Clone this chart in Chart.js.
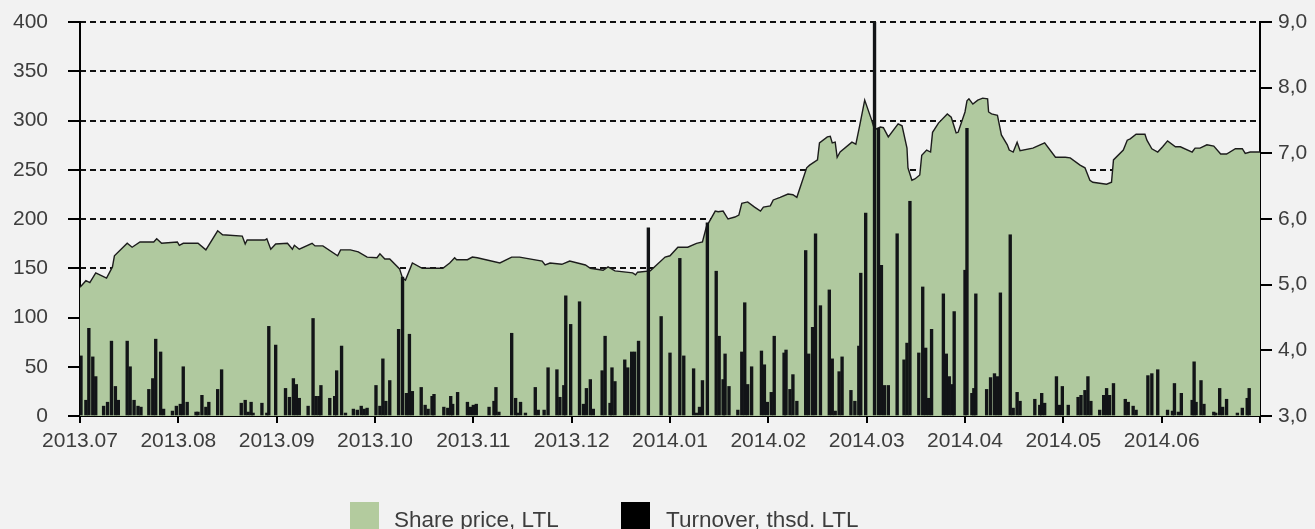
<!DOCTYPE html>
<html>
<head>
<meta charset="utf-8">
<script src="https://cdn.jsdelivr.net/npm/chart.js@4.4.1/dist/chart.umd.min.js"></script>
<style>
  html, body { margin: 0; padding: 0; background: #f2f2f2; overflow: hidden; }
  canvas { display: block; }
</style>
</head>
<body>
<canvas id="shareChart" width="1315" height="529"></canvas>
<script>
// month labels on the x axis (one tick per month start)
const months = ["2013.07", "2013.08", "2013.09", "2013.10", "2013.11", "2013.12",
                "2014.01", "2014.02", "2014.03", "2014.04", "2014.05", "2014.06"];

// share price, LTL (position in months since 2013.07)
const pricePos = [0, 0.06, 0.10, 0.16, 0.27, 0.33, 0.35, 0.48, 0.53, 0.61, 0.75, 0.78, 0.83, 0.99, 1.01, 1.05,
  1.20, 1.28, 1.40, 1.45, 1.65, 1.68, 1.70, 1.88, 1.90, 1.94, 1.99, 2.11, 2.16, 2.18, 2.23, 2.36, 2.39, 2.47,
  2.62, 2.65, 2.75, 2.83, 2.92, 3.02, 3.05, 3.10, 3.15, 3.25, 3.28, 3.31, 3.38, 3.48, 3.69, 3.76, 3.81, 3.83,
  3.94, 3.99, 4.04, 4.27, 4.39, 4.47, 4.70, 4.73, 4.78, 4.90, 4.98, 5.14, 5.19, 5.32, 5.37, 5.44, 5.62, 5.65,
  5.67, 5.80, 5.95, 6.00, 6.08, 6.18, 6.27, 6.33, 6.37, 6.46, 6.49, 6.54, 6.59, 6.66, 6.70, 6.73, 6.79, 6.86,
  6.92, 6.95, 7.02, 7.05, 7.12, 7.20, 7.25, 7.29, 7.39, 7.42, 7.50, 7.52, 7.60, 7.63, 7.65, 7.68, 7.70, 7.73,
  7.85, 7.89, 7.93, 7.98, 8.05, 8.08, 8.14, 8.17, 8.22, 8.32, 8.36, 8.41, 8.42, 8.46, 8.49, 8.54, 8.56, 8.61,
  8.65, 8.67, 8.73, 8.82, 8.86, 8.91, 8.93, 9.00, 9.02, 9.04, 9.08, 9.13, 9.18, 9.23, 9.24, 9.27, 9.33, 9.37,
  9.43, 9.45, 9.49, 9.53, 9.56, 9.69, 9.81, 9.92, 10.02, 10.07, 10.17, 10.22, 10.27, 10.30, 10.44, 10.49,
  10.51, 10.61, 10.65, 10.68, 10.74, 10.83, 10.85, 10.90, 10.96, 11.01, 11.06, 11.14, 11.19, 11.31, 11.34,
  11.39, 11.46, 11.53, 11.60, 11.66, 11.75, 11.82, 11.85, 11.90, 12.00];
const price = [4.96, 5.06, 5.03, 5.18, 5.10, 5.27, 5.44, 5.63, 5.57, 5.65, 5.65, 5.70, 5.63, 5.65, 5.60, 5.63,
  5.63, 5.53, 5.82, 5.76, 5.74, 5.62, 5.68, 5.68, 5.70, 5.54, 5.62, 5.63, 5.54, 5.60, 5.54, 5.63, 5.59, 5.59,
  5.44, 5.53, 5.53, 5.50, 5.42, 5.41, 5.47, 5.39, 5.39, 5.24, 5.10, 5.07, 5.33, 5.25, 5.25, 5.33, 5.41, 5.38,
  5.38, 5.42, 5.41, 5.33, 5.42, 5.42, 5.36, 5.30, 5.33, 5.31, 5.36, 5.30, 5.25, 5.22, 5.27, 5.21, 5.18, 5.15,
  5.19, 5.21, 5.42, 5.44, 5.57, 5.57, 5.63, 5.65, 5.88, 6.12, 6.11, 6.12, 6.00, 6.03, 6.06, 6.24, 6.26, 6.18,
  6.12, 6.18, 6.20, 6.29, 6.33, 6.38, 6.37, 6.33, 6.78, 6.82, 6.90, 7.16, 7.25, 7.26, 7.16, 7.17, 6.94, 7.02,
  7.17, 7.14, 7.43, 7.81, 7.51, 7.36, 7.40, 7.39, 7.25, 7.45, 7.42, 7.08, 6.78, 6.59, 6.61, 6.67, 6.97, 7.05,
  7.02, 7.32, 7.46, 7.60, 7.55, 7.31, 7.32, 7.63, 7.80, 7.83, 7.75, 7.81, 7.84, 7.83, 7.63, 7.60, 7.58, 7.28,
  7.13, 7.05, 7.02, 7.17, 7.04, 7.08, 7.16, 6.94, 6.94, 6.93, 6.82, 6.78, 6.59, 6.56, 6.53, 6.56,
  6.90, 7.05, 7.20, 7.22, 7.29, 7.29, 7.20, 7.07, 7.02, 7.10, 7.19, 7.10, 7.10, 7.02, 7.08,
  7.08, 7.13, 7.11, 6.99, 6.99, 7.07, 7.07, 7.00, 7.02, 7.02];

// turnover, thsd. LTL (position in months since 2013.07)
const turnoverPos = [0.01, 0.06, 0.09, 0.13, 0.16, 0.24, 0.28, 0.32, 0.36, 0.39, 0.48, 0.51, 0.55, 0.59, 0.62,
  0.70, 0.74, 0.77, 0.82, 0.85, 0.94, 0.98, 1.02, 1.05, 1.09, 1.18, 1.20, 1.24, 1.28, 1.31, 1.40, 1.44, 1.64,
  1.68, 1.71, 1.74, 1.76, 1.85, 1.90, 1.92, 1.99, 2.09, 2.13, 2.17, 2.20, 2.23, 2.32, 2.37, 2.40, 2.43, 2.45,
  2.54, 2.59, 2.61, 2.66, 2.70, 2.78, 2.82, 2.86, 2.89, 2.92, 3.01, 3.05, 3.08, 3.11, 3.15, 3.24, 3.28, 3.32,
  3.35, 3.38, 3.47, 3.51, 3.54, 3.58, 3.60, 3.70, 3.74, 3.77, 3.79, 3.84, 3.94, 3.97, 4.00, 4.03, 4.16, 4.21,
  4.23, 4.26, 4.39, 4.43, 4.45, 4.48, 4.53, 4.63, 4.66, 4.72, 4.76, 4.85, 4.88, 4.92, 4.94, 4.99, 5.08, 5.12,
  5.15, 5.19, 5.22, 5.31, 5.34, 5.39, 5.41, 5.44, 5.54, 5.57, 5.61, 5.64, 5.68, 5.78, 5.91, 6.00, 6.10, 6.14,
  6.24, 6.27, 6.30, 6.33, 6.38, 6.47, 6.50, 6.54, 6.56, 6.60, 6.69, 6.73, 6.76, 6.79, 6.83, 6.93, 6.96, 6.99,
  7.03, 7.06, 7.16, 7.18, 7.22, 7.25, 7.29, 7.38, 7.41, 7.45, 7.48, 7.53, 7.62, 7.65, 7.68, 7.72, 7.75, 7.84,
  7.88, 7.92, 7.94, 7.99, 8.08, 8.12, 8.15, 8.18, 8.22, 8.31, 8.38, 8.41, 8.44, 8.53, 8.57, 8.60, 8.63, 8.66,
  8.78, 8.81, 8.84, 8.87, 8.89, 9.00, 9.02, 9.07, 9.09, 9.11, 9.22, 9.26, 9.30, 9.33, 9.36, 9.46, 9.49, 9.53,
  9.56, 9.71, 9.76, 9.78, 9.81, 9.93, 9.96, 9.99, 10.05, 10.15, 10.18, 10.22, 10.25, 10.28, 10.37, 10.41,
  10.44, 10.47, 10.51, 10.63, 10.66, 10.71, 10.74, 10.86, 10.90, 10.96, 11.06, 11.11, 11.13, 11.17, 11.20,
  11.31, 11.33, 11.35, 11.40, 11.43, 11.53, 11.55, 11.59, 11.62, 11.66, 11.77, 11.82, 11.87, 11.89];
const turnover = [61, 16, 89, 60, 40, 10, 14, 76, 30, 16, 76, 50, 16, 10, 9,
  27, 38, 78, 65, 7, 5, 10, 12, 50, 14, 4, 4, 21, 9, 14, 27, 47, 13,
  16, 4, 14, 3, 13, 3, 91, 72, 28, 19, 38, 32, 18, 10, 99, 20, 20, 31,
  18, 20, 46, 71, 3, 7, 6, 10, 7, 8, 31, 10, 58, 15, 36, 88, 141, 23,
  83, 25, 29, 11, 7, 20, 22, 9, 8, 20, 12, 24, 14, 9, 11, 12, 9, 15,
  29, 4, 84, 18, 3, 14, 3, 29, 6, 6, 49, 47, 19, 31, 122, 93, 116, 12,
  28, 37, 7, 46, 81, 13, 49, 35, 57, 49, 65, 65, 76, 191, 101, 64, 160, 61,
  48, 3, 9, 36, 196, 147, 81, 37, 63, 30, 6, 65, 115, 32, 50, 66, 52, 14,
  24, 81, 64, 67, 27, 42, 15, 168, 63, 90, 185, 112, 128, 58, 5, 45, 60, 26,
  15, 71, 145, 206, 400, 292, 153, 31, 31, 185, 57, 74, 218, 64, 131, 69, 18, 88,
  124, 63, 40, 32, 106, 148, 292, 23, 28, 124, 27, 39, 43, 40, 125, 184, 8, 24,
  15, 17, 11, 23, 13, 40, 11, 30, 11, 19, 21, 26, 40, 15, 6, 21,
  28, 21, 33, 17, 14, 10, 6, 41, 43, 47, 6, 5, 33, 4, 23,
  16, 55, 14, 36, 12, 4, 3, 28, 9, 17, 3, 8, 18, 28];

const TEXT = "#3d3d3d";
const FONT = { family: "'Liberation Sans', Arial, sans-serif", size: 21 };
const LEGEND_SIZE = 22.5;

// fixed box sizes so the plot area sits where the original one does
function fixBox(w, h) {
    return function (s) {
        if (w !== null) s.width = w;
        if (h !== null) s.height = h;
        s.paddingTop = 0;
        s.paddingBottom = 0;
        s.paddingLeft = 0;
        s.paddingRight = 0;
    };
}

// ==========================
// LEGEND (drawn below the axis)
// ==========================
const bottomLegend = {
    id: "bottomLegend",
    afterDraw(chart) {
        const ctx = chart.ctx;
        ctx.save();
        ctx.font = LEGEND_SIZE + "px " + FONT.family;
        ctx.textBaseline = "alphabetic";
        const items = [
            { color: "#b3cb9e", text: chart.data.datasets[0].label, box: 350, label: 394 },
            { color: "#000000", text: chart.data.datasets[1].label, box: 621, label: 666 }
        ];
        items.forEach(function (it) {
            ctx.fillStyle = it.color;
            ctx.fillRect(it.box, 502, 29, 29);
            ctx.fillStyle = TEXT;
            ctx.fillText(it.text, it.label, 527);
        });
        ctx.restore();
    }
};

const ctx = document.getElementById("shareChart").getContext("2d");

new Chart(ctx, {
    type: "bar",
    data: {
        datasets: [{
            type: "line",
            label: "Share price, LTL",
            data: pricePos.map(function (p, i) { return { x: p, y: price[i] }; }),
            yAxisID: "y1",
            borderColor: "#1c1c1c",
            borderWidth: 1.4,
            backgroundColor: "#b0c99f",
            fill: "start",
            pointRadius: 0,
            tension: 0,
            order: 2
        }, {
            type: "bar",
            label: "Turnover, thsd. LTL",
            data: turnoverPos.map(function (p, i) { return { x: p, y: turnover[i] }; }),
            yAxisID: "y",
            backgroundColor: "#121417",
            barThickness: 2.7,
            order: 1
        }]
    },
    options: {
        responsive: false,
        animation: false,
        devicePixelRatio: 1,
        events: [],
        layout: { padding: { top: 22, left: 0, right: 0, bottom: 0 } },
        plugins: { legend: { display: false }, tooltip: { enabled: false } },
        scales: {
            x: {
                type: "linear",
                position: "bottom",
                min: 0,
                max: 12,
                offset: false,
                z: 1,
                grid: { offset: false, drawOnChartArea: false, tickLength: 7, color: "#000", lineWidth: 2 },
                border: { color: "#000", width: 2 },
                ticks: {
                    stepSize: 1,
                    autoSkip: false,
                    maxRotation: 0,
                    padding: 6,
                    color: TEXT,
                    font: FONT,
                    callback: function (v) { return months[v] || ""; }
                },
                afterFit: fixBox(null, 113)
            },
            yGrid: {
                type: "linear",
                position: "left",
                min: 0,
                max: 400,
                grid: { drawTicks: false, color: "#111", lineWidth: 2 },
                border: { display: false, dash: [6, 4] },
                ticks: { display: false, stepSize: 50 },
                afterFit: fixBox(0, null)
            },
            y: {
                type: "linear",
                position: "left",
                min: 0,
                max: 400,
                z: 1,
                grid: { drawOnChartArea: false, tickLength: 12, color: "#000", lineWidth: 2 },
                border: { color: "#000", width: 2 },
                ticks: { stepSize: 50, padding: 20, color: TEXT, font: FONT },
                afterFit: fixBox(80, null)
            },
            y1: {
                type: "linear",
                position: "right",
                min: 3,
                max: 9,
                z: 1,
                grid: { drawOnChartArea: false, tickLength: 12, color: "#000", lineWidth: 2 },
                border: { color: "#000", width: 2 },
                ticks: {
                    stepSize: 1,
                    padding: 6,
                    color: TEXT,
                    font: FONT,
                    callback: function (v) { return v.toFixed(1).replace(".", ","); }
                },
                afterFit: fixBox(55, null)
            }
        }
    },
    plugins: [bottomLegend]
});
</script>
</body>
</html>
